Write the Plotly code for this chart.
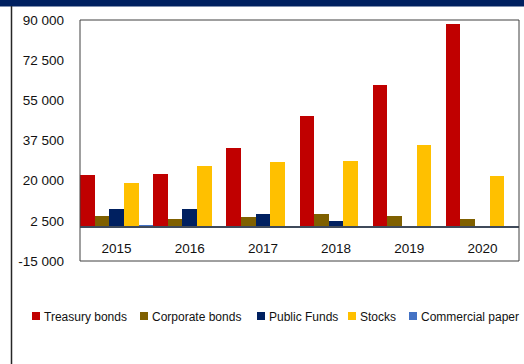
import plotly.graph_objects as go

# Annual holdings by instrument
years = ["2015", "2016", "2017", "2018", "2019", "2020"]
treasury_bonds = [22500, 22900, 34200, 48000, 61700, 88300]
corporate_bonds = [4600, 3400, 4300, 5500, 4500, 3400]
public_funds = [7700, 7700, 5500, 2400, 0, 0]
stocks = [19100, 26200, 28100, 28700, 35600, 22000]
commercial_paper = [400, 0, 0, 0, 0, 0]

series_names = ["Treasury bonds", "Corporate bonds", "Public Funds", "Stocks", "Commercial paper"]
series_values = [treasury_bonds, corporate_bonds, public_funds, stocks, commercial_paper]
series_colors = ["#C00000", "#7F6000", "#002060", "#FFC000", "#4472C4"]

y_tickvals = [-15000, 2500, 20000, 37500, 55000, 72500, 90000]
y_ticktext = ["-15 000", "2 500", "20 000", "37 500", "55 000", "72 500", "90 000"]
y_min, y_max = -15000, 90000

W, H = 524, 364
L, R, T, B = 80, 5, 20, 103
plot_w, plot_h = W - L - R, H - T - B


def px_x(x):
    return (x - L) / plot_w


def px_y(y):
    return (H - B - y) / plot_h


FONT = "Liberation Sans, Arial, sans-serif"
TICK_FONT = dict(size=13.5, family=FONT, color="#111111")

fig = go.Figure()
for name, vals, col in zip(series_names, series_values, series_colors):
    fig.add_trace(go.Bar(x=years, y=vals, name=name, marker=dict(color=col, line=dict(width=0)),
                         showlegend=False))

shapes = [
    # outer frame of the plot area
    dict(type="rect", xref="paper", yref="paper", x0=0, x1=1, y0=0, y1=1,
         line=dict(color="#404040", width=1), layer="above"),
    # header band
    dict(type="rect", xref="paper", yref="paper", x0=px_x(0), x1=px_x(W), y0=px_y(6.5), y1=px_y(0),
         fillcolor="#002060", line=dict(width=0)),
    # left rule
    dict(type="line", xref="paper", yref="paper", x0=px_x(11.5), x1=px_x(11.5), y0=px_y(6), y1=px_y(H),
         line=dict(color="#262626", width=1.5)),
]

# legend entries drawn as swatch + label
legend_swatch_x = [32, 140, 257, 348, 409]
legend_y = 316
annotations = []
for name, col, sx in zip(series_names, series_colors, legend_swatch_x):
    shapes.append(dict(type="rect", xref="paper", yref="paper",
                       x0=px_x(sx), x1=px_x(sx + 8), y0=px_y(legend_y + 4), y1=px_y(legend_y - 4),
                       fillcolor=col, line=dict(width=0)))
    annotations.append(dict(xref="paper", yref="paper", x=px_x(sx + 10), y=px_y(legend_y + 0.5),
                            xanchor="left", yanchor="middle", text=name, showarrow=False,
                            font=dict(family=FONT, size=12, color="#111111")))

fig.update_layout(
    width=W, height=H,
    margin=dict(l=L, r=R, t=T, b=B, pad=0),
    paper_bgcolor="white", plot_bgcolor="white",
    barmode="group", bargap=0, bargroupgap=0,
    font=dict(family=FONT, size=13, color="#111111"),
    shapes=shapes, annotations=annotations,
    xaxis=dict(type="category", anchor="free", position=(0 - y_min) / (y_max - y_min),
               showline=True, linecolor="#3F4A5A", linewidth=1.5, showgrid=False, zeroline=False,
               ticks="", ticklabelstandoff=9, tickfont=TICK_FONT),
    yaxis=dict(range=[y_min, y_max], tickvals=y_tickvals, ticktext=y_ticktext,
               showgrid=False, zeroline=False, showline=False, ticks="",
               ticklabelstandoff=15, tickfont=TICK_FONT),
)

fig.write_html("out.html")
